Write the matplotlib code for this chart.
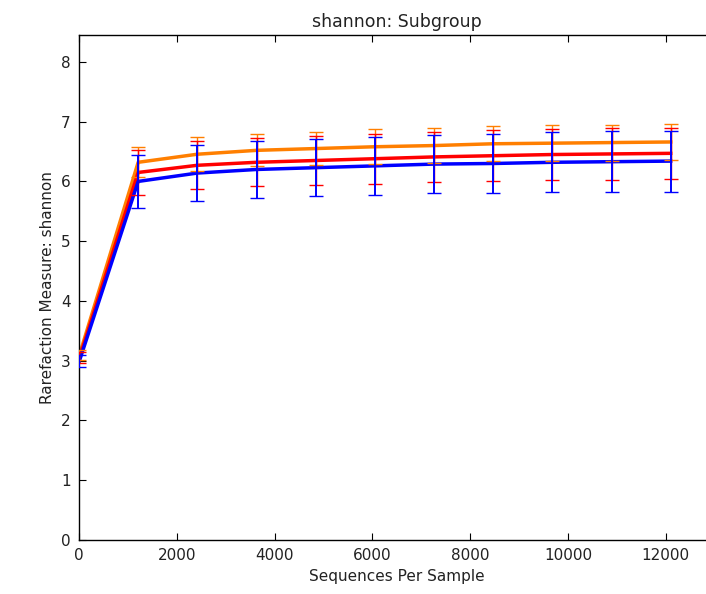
import matplotlib
matplotlib.use("Agg")
import matplotlib.pyplot as plt

seqs = [10, 1210, 2420, 3630, 4840, 6050, 7260, 8470, 9680, 10890, 12100]

blue_mean = [3.00, 6.00, 6.14, 6.20, 6.23, 6.26, 6.29, 6.30, 6.32, 6.33, 6.34]
blue_err = [0.10, 0.45, 0.47, 0.47, 0.48, 0.49, 0.49, 0.50, 0.50, 0.51, 0.51]
red_mean = [3.05, 6.15, 6.27, 6.32, 6.35, 6.38, 6.41, 6.43, 6.45, 6.46, 6.47]
red_err = [0.09, 0.38, 0.40, 0.40, 0.41, 0.42, 0.42, 0.43, 0.43, 0.43, 0.43]
orange_mean = [3.10, 6.32, 6.455, 6.52, 6.55, 6.58, 6.60, 6.63, 6.64, 6.65, 6.66]
orange_err = [0.08, 0.25, 0.28, 0.27, 0.28, 0.29, 0.29, 0.29, 0.30, 0.30, 0.30]

series = [
    ("orange", orange_mean, orange_err, "#ff7f00"),
    ("red", red_mean, red_err, "#ff0000"),
    ("blue", blue_mean, blue_err, "#0000ff"),
]

fig = plt.figure(figsize=(7.06, 5.94), dpi=100)
ax = fig.add_axes([79/706, 54/594, 13000*0.0489/706, 505/594])

for name, m, e, c in series:
    ax.plot(seqs, m, color=c, linewidth=2.5, zorder=2)
z = 3
for name, m, e, c in series:
    ax.errorbar(seqs, m, yerr=e, color=c, ecolor=c,
                elinewidth=1.4 if name == "blue" else 1.0,
                capsize=5, capthick=1.0, linewidth=0, zorder=z)
    z += 1

ax.set_xlim(0, 13000)
ax.set_ylim(0, 8.45)
ax.set_xticks([0, 2000, 4000, 6000, 8000, 10000, 12000])
ax.set_yticks([0, 1, 2, 3, 4, 5, 6, 7, 8])
ax.tick_params(direction="in", top=True, right=True, labelsize=11, length=5, pad=6,
               labelcolor="#222222")
for s in ax.spines.values():
    s.set_linewidth(1.0)
ax.set_title("shannon: Subgroup", fontsize=12.5, color="#222222")
ax.set_xlabel("Sequences Per Sample", fontsize=11, color="#222222")
ax.set_ylabel("Rarefaction Measure: shannon", fontsize=11, color="#222222")

fig.savefig("out.png", dpi=100)
